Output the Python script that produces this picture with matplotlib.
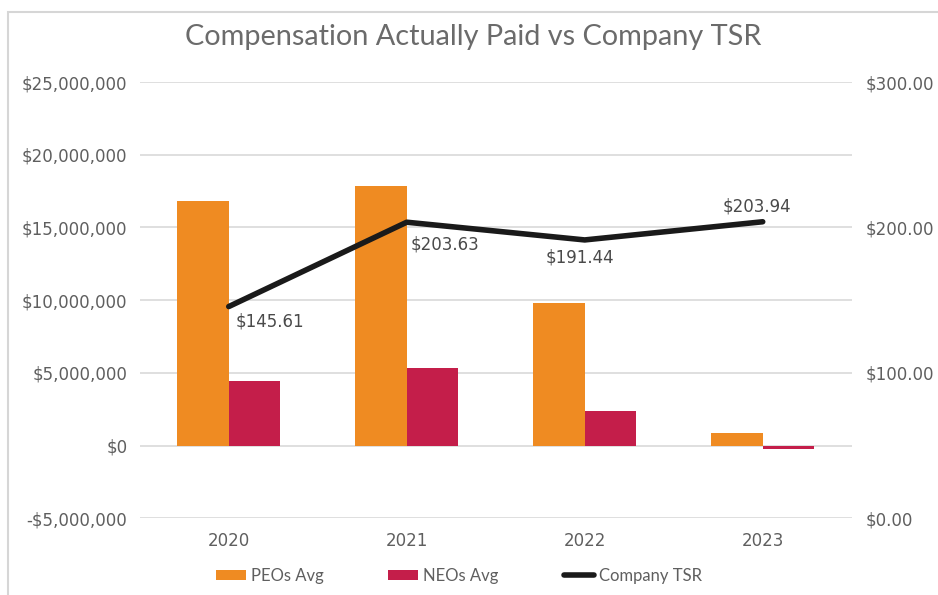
import numpy as np
import matplotlib.pyplot as plt
from matplotlib.patches import Rectangle
from matplotlib.ticker import FuncFormatter

plt.rcParams['font.family'] = ['Lato', 'DejaVu Sans']

years = ['2020', '2021', '2022', '2023']
peo_avg = [16850000, 17880000, 9830000, 890000]
neo_avg = [4470000, 5360000, 2410000, -250000]
tsr = [145.61, 203.63, 191.44, 203.94]
tsr_labels = ['$145.61', '$203.63', '$191.44', '$203.94']

orange = '#ef8b22'
crimson = '#c41e4a'
gray_txt = '#5f5f5f'
grid_c = '#d9d9d9'
num_font = 'DejaVu Sans'

fig = plt.figure(figsize=(9.38, 5.95), dpi=100)
fig.patches.append(Rectangle((0.008, -0.01), 1.0, 0.99, transform=fig.transFigure,
                             fill=False, edgecolor='#d6d6d6', linewidth=1.5))

ax = fig.add_axes([0.149, 0.129, 0.759, 0.733])
x = np.arange(len(years))
w = 0.29
ax.bar(x - w / 2, peo_avg, w, color=orange, label='PEOs Avg', zorder=2)
ax.bar(x + w / 2, neo_avg, w, color=crimson, label='NEOs Avg', zorder=2)

ax.set_xlim(-0.5, 3.5)
ax.set_ylim(-5000000, 25000000)
ax.set_yticks(np.arange(-5000000, 25000001, 5000000))
ax.yaxis.set_major_formatter(FuncFormatter(
    lambda v, p: ('-$' if v < 0 else '$') + f'{abs(v):,.0f}'))
ax.grid(axis='y', color=grid_c, linewidth=1.2, zorder=0)
ax.set_xticks(x)
ax.set_xticklabels(years)
for s in ax.spines.values():
    s.set_visible(False)
ax.tick_params(axis='both', length=0, colors=gray_txt, labelsize=12)
ax.tick_params(axis='y', pad=9)
ax.tick_params(axis='x', pad=10)
for t in ax.get_xticklabels() + ax.get_yticklabels():
    t.set_fontfamily(num_font)

ax2 = ax.twinx()
ax2.set_ylim(0, 300)
ax2.set_yticks([0, 100, 200, 300])
ax2.yaxis.set_major_formatter(FuncFormatter(lambda v, p: f'${v:,.2f}'))
for s in ax2.spines.values():
    s.set_visible(False)
ax2.tick_params(axis='y', length=0, colors=gray_txt, labelsize=12, pad=10)
for t in ax2.get_yticklabels():
    t.set_fontfamily(num_font)
ax2.plot(x, tsr, color='#1a1a1a', linewidth=4, solid_capstyle='round',
         label='Company TSR', zorder=3)

offsets = [(5, -11), (3, -16), (-28, -13), (-29, 11)]
for xi, yi, lab, off in zip(x, tsr, tsr_labels, offsets):
    ax2.annotate(lab, (xi, yi), xytext=off, textcoords='offset points',
                 color='#4a4a4a', fontsize=12, ha='left', va='center',
                 fontfamily=num_font)

fig.text(0.504, 0.937, 'Compensation Actually Paid vs Company TSR',
         ha='center', va='center', fontsize=20.8, color='#6b6b6b')

h1, l1 = ax.get_legend_handles_labels()
h2, l2 = ax2.get_legend_handles_labels()
fig.legend(h1 + h2, l1 + l2, loc='center', bbox_to_anchor=(0.489, 0.032), ncol=3,
           frameon=False, fontsize=12, labelcolor=gray_txt, handlelength=1.8,
           handleheight=0.6, columnspacing=3.9, handletextpad=0.3)

fig.savefig('out.png', dpi=100)
